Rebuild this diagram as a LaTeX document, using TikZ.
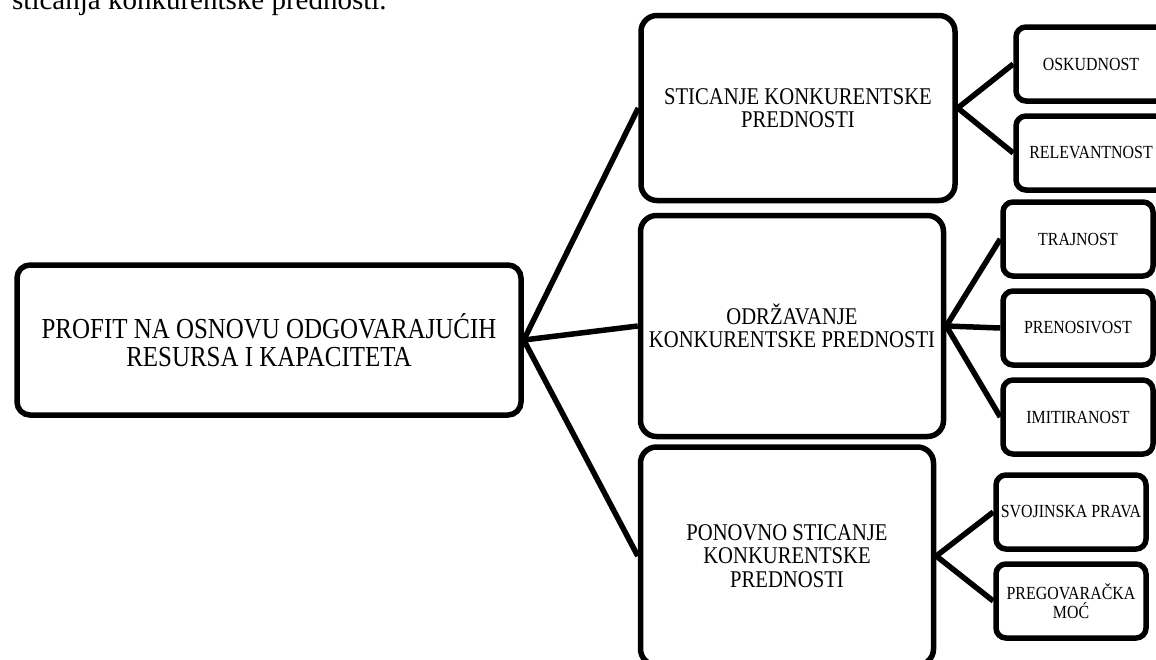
\documentclass[tikz,border=0pt]{standalone}
\usepackage{fontspec}
\setmainfont{Liberation Serif}
\newfontfamily\boxfont[FakeStretch=0.86]{Liberation Serif}
\usepackage{tikz}

\begin{document}
\begin{tikzpicture}[x=1pt,y=-1pt,
    box/.style={draw=black, line width=5.5pt, fill=white, rounded corners=16pt, align=center, inner sep=0pt},
    leaf/.style={box, rounded corners=10pt, minimum width=150pt, minimum height=74pt, font=\boxfont\fontsize{18.5}{19}\selectfont},
    link/.style={line width=5.5pt}]
      \useasboundingbox (0,0) rectangle (1156,659);
      \clip (0,0) rectangle (1156,659);
      \node[anchor=base west, inner sep=0pt, font=\fontsize{29}{30}\selectfont] (caption) at (12,9) {sticanja konkurentske prednosti.};
      % root and the three stages
      \node[box, minimum width=504pt, minimum height=150pt, rounded corners=13pt, font=\boxfont\fontsize{29}{28}\selectfont] (root) at (269,340) {PROFIT NA OSNOVU ODGOVARAJUĆIH\\RESURSA I KAPACITETA};
      \node[box, minimum width=314pt, minimum height=185pt, font=\boxfont\fontsize{24}{23.5}\selectfont] (stic) at (798,108) {STICANJE KONKURENTSKE\\PREDNOSTI};
      \node[box, minimum width=303pt, minimum height=221pt, font=\boxfont\fontsize{24}{23.5}\selectfont] (odrz) at (792,326) {ODRŽAVANJE\\KONKURENTSKE PREDNOSTI};
      \node[box, minimum width=293pt, minimum height=218pt, font=\boxfont\fontsize{24}{23.5}\selectfont] (pon) at (787,556) {PONOVNO STICANJE\\KONKURENTSKE\\PREDNOSTI};
      % leaves
      \foreach \name/\x/\y/\txt in {osk/1091/64/{OSKUDNOST}, rel/1091/153/{RELEVANTNOST}, traj/1078/239/{TRAJNOST}, pren/1078/328/{PRENOSIVOST}, imit/1078/417/{IMITIRANOST}, svoj/1071/512/{SVOJINSKA PRAVA}, preg/1071/601/{PREGOVARAČKA\\MOĆ}}
         {\node[leaf] (\name) at (\x,\y) {\txt};}
      % connectors
      \foreach \a/\b in {root/stic, root/odrz, root/pon, stic/osk, stic/rel, odrz/traj, odrz/pren, odrz/imit, pon/svoj, pon/preg}
         {\draw[link] (\a.east) -- (\b.west);}
   \end{tikzpicture}
\end{document}
